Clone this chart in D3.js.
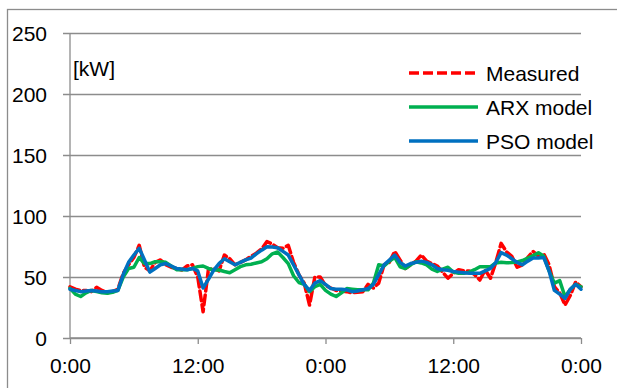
<!DOCTYPE html>
<html>
<head>
<meta charset="utf-8">
<script src="https://cdn.jsdelivr.net/npm/d3@7"></script>
<style>
  html, body { margin: 0; padding: 0; background: #fff; }
  svg { display: block; }
  text { font-family: "Liberation Sans", Arial, sans-serif; fill: #000; }
</style>
</head>
<body>
<svg id="chart" width="617" height="388"></svg>
<script>
// Half-hourly electric load over two days, in kW (hours 0 .. 48, step 0.5)
const hours = d3.range(0, 48.5, 0.5);

const measured = [
  42, 40, 39, 39, 38, 41.5, 39, 37, 38, 40,
  53, 60, 66, 76, 58, 55, 62, 64, 60, 58,
  57, 55.7, 59, 60, 50, 21.5, 56, 57, 55, 68,
  65, 60, 62, 64, 67, 69.5, 73, 79, 77, 74,
  73.5, 76, 62, 52, 45, 27, 50, 50, 43, 41,
  39, 38.5, 38, 37, 37.5, 38, 44, 41, 45, 60,
  62, 71, 64, 57, 60, 63, 68, 63, 61, 59,
  54, 49, 53, 56, 55, 55, 52, 47.5, 55.7, 49,
  62, 77.6, 70.7, 67, 58, 60, 66, 71, 67, 69,
  60, 42, 37, 27, 35, 46, 42
];

const arxModel = [
  40.7, 36, 34, 37, 39, 38, 37, 36.6, 37.5, 39,
  50, 57, 58, 66, 61, 61, 62.5, 62.5, 62, 59,
  56, 56, 56, 57, 58.5, 59, 57, 55.7, 55.7, 54.5,
  53.5, 56, 58.5, 60, 60.5, 61.5, 62.5, 65, 69, 70.5,
  66, 61, 51, 45.5, 44, 38, 42, 44, 39, 36,
  34, 37, 40.5, 40, 39.5, 39.5, 39.5, 45, 60, 59,
  63, 66, 58.4, 57, 60, 62.5, 61.5, 60, 56.5, 54.5,
  56.5, 58, 54, 53, 53, 54, 56, 58.4, 58.4, 58.4,
  61.5, 62, 61.7, 61.8, 62.3, 63.5, 65.5, 67.5, 69.9, 67,
  55, 45, 47, 33.8, 40, 44, 42
];

const psoModel = [
  40, 39, 38, 38.5, 39, 38.5, 38, 38, 38.5, 39,
  52, 62, 68, 73.5, 64, 54, 57, 60, 61, 59,
  57, 56.5, 56, 57, 55, 41, 48, 55.7, 61, 65,
  62.5, 60, 62, 64, 65.5, 69, 72, 74.8, 74.5, 74,
  71, 68, 60, 52, 44, 39, 45, 47, 44, 40.5,
  40, 40, 39.5, 38, 38.5, 39.5, 40.5, 44, 52, 60,
  64, 68, 62, 59, 61, 62, 63, 62, 60, 57,
  56, 55.5, 54.5, 54, 53.5, 53, 53, 53, 55, 57,
  62, 70, 68, 65, 62, 60, 63, 65.5, 65.5, 66,
  55, 39, 36, 32.5, 40, 44, 40
];

const seriesNames = ["Measured", "ARX model", "PSO model"];
const xTickValues = [0, 12, 24, 36, 48];
const xTickLabels = ["0:00", "12:00", "0:00", "12:00", "0:00"];
const yTickValues = [0, 50, 100, 150, 200, 250];
const unitLabel = "[kW]";

// ---- layout & styling ----
const svg = d3.select("#chart");
const plot = { left: 70, right: 581, top: 33, bottom: 338 };
const gridColor = "#8c8c8c";
const fontSize = 21;

const x = d3.scaleLinear().domain([0, 48]).range([plot.left, plot.right]);
const y = d3.scaleLinear().domain([0, 250]).range([plot.bottom, plot.top]);

// chart frame
svg.append("rect")
  .attr("x", 7.5).attr("y", 9.5)
  .attr("width", 700).attr("height", 500)
  .attr("fill", "none").attr("stroke", gridColor).attr("stroke-width", 1.3);

// horizontal gridlines with left tick stubs and labels
const yAxis = d3.axisLeft(y)
  .tickValues(yTickValues)
  .tickSize(plot.right - plot.left + 7)
  .tickPadding(16)
  .tickFormat(d3.format("d"));

const gy = svg.append("g")
  .attr("transform", `translate(${plot.right},0)`)
  .call(yAxis);
gy.select(".domain").remove();
gy.selectAll(".tick line").attr("stroke", gridColor).attr("stroke-width", 1.3);
gy.selectAll(".tick text")
  .attr("x", -(plot.right - 47))
  .attr("dy", "0.35em")
  .style("font-size", fontSize + "px")
  .style("font-family", "'Liberation Sans', Arial, sans-serif")
  .attr("fill", "#000");

// vertical axis line
svg.append("line")
  .attr("x1", plot.left).attr("x2", plot.left)
  .attr("y1", plot.top).attr("y2", plot.bottom)
  .attr("stroke", gridColor).attr("stroke-width", 1.3);

// x axis
const xAxis = d3.axisBottom(x)
  .tickValues(xTickValues)
  .tickSize(6)
  .tickPadding(14)
  .tickFormat((d, i) => xTickLabels[i]);

const gx = svg.append("g")
  .attr("transform", `translate(0,${plot.bottom})`)
  .call(xAxis);
gx.select(".domain").attr("stroke", gridColor).attr("stroke-width", 1.3)
  .attr("d", `M${plot.left},0H${plot.right}`);
gx.selectAll(".tick line").attr("stroke", gridColor).attr("stroke-width", 1.3);
gx.selectAll(".tick text")
  .style("font-size", fontSize + "px")
  .style("font-family", "'Liberation Sans', Arial, sans-serif")
  .attr("fill", "#000");

// unit label
svg.append("text")
  .attr("x", 73).attr("y", 76)
  .style("font-size", fontSize + "px")
  .text(unitLabel);

// ---- series ----
const styles = [
  { color: "#FF0000", dash: "10,4" },
  { color: "#00B050", dash: null },
  { color: "#0070C0", dash: null }
];
const allSeries = [measured, arxModel, psoModel];

const line = d3.line()
  .x((d, i) => x(hours[i]))
  .y(d => y(d));

allSeries.forEach((values, k) => {
  svg.append("path")
    .datum(values)
    .attr("d", line)
    .attr("fill", "none")
    .attr("stroke", styles[k].color)
    .attr("stroke-width", 3.5)
    .attr("stroke-linejoin", "round")
    .attr("stroke-linecap", "round")
    .attr("stroke-dasharray", styles[k].dash);
});

// ---- legend ----
const legend = svg.append("g");
const legendRows = [73, 107, 141];
seriesNames.forEach((name, k) => {
  legend.append("line")
    .attr("x1", 409).attr("x2", 478)
    .attr("y1", legendRows[k]).attr("y2", legendRows[k])
    .attr("stroke", styles[k].color)
    .attr("stroke-width", 3.5)
    .attr("stroke-dasharray", styles[k].dash);
  legend.append("text")
    .attr("x", 486).attr("y", legendRows[k])
    .attr("dy", "0.36em")
    .style("font-size", fontSize + "px")
    .text(name);
});
</script>
</body>
</html>
